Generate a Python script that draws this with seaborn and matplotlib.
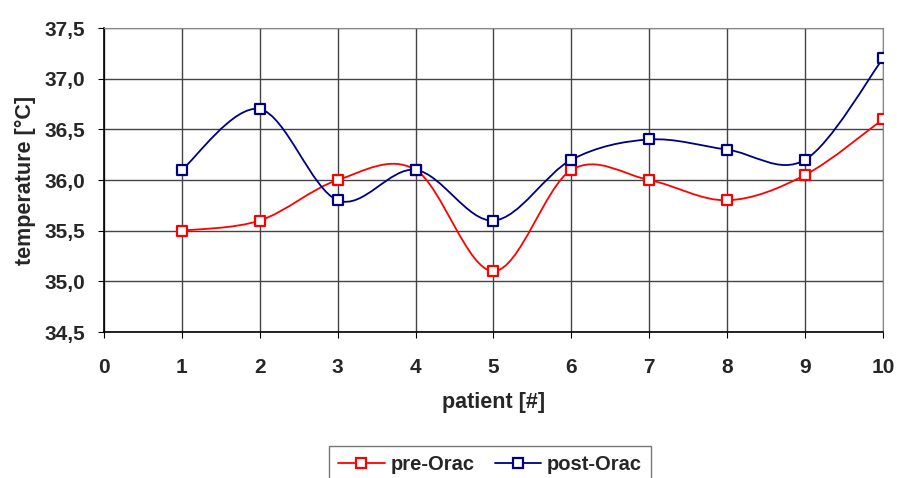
import numpy as np
import matplotlib
matplotlib.use("Agg")
import matplotlib.pyplot as plt
from matplotlib.path import Path
from matplotlib.patches import PathPatch
from matplotlib.lines import Line2D
from matplotlib.ticker import FuncFormatter
import seaborn as sns

# =====================================================
# DATA
# =====================================================
patients = [1, 2, 3, 4, 5, 6, 7, 8, 9, 10]
pre_orac = [35.5, 35.6, 36.0, 36.1, 35.1, 36.1, 36.0, 35.8, 36.05, 36.6]
post_orac = [36.1, 36.7, 35.8, 36.1, 35.6, 36.2, 36.4, 36.3, 36.2, 37.2]

RED = "#FF0000"
NAVY = "#000080"

sns.set_style("white")
plt.rcParams["font.family"] = ["Liberation Sans", "DejaVu Sans"]
plt.rcParams["font.weight"] = "bold"


def smooth_path(xs, ys):
    # Excel-style smoothed line: cubic Bezier through the points
    pts = np.column_stack([xs, ys]).astype(float)
    verts = [pts[0]]
    codes = [Path.MOVETO]
    n = len(pts)
    for i in range(n - 1):
        p0 = pts[i - 1] if i > 0 else pts[i]
        p1 = pts[i]
        p2 = pts[i + 1]
        p3 = pts[i + 2] if i + 2 < n else pts[i + 1]
        c1 = p1 + (p2 - p0) / 6.0
        c2 = p2 - (p3 - p1) / 6.0
        verts += [c1, c2, p2]
        codes += [Path.CURVE4] * 3
    return Path(verts, codes)


fig = plt.figure(figsize=(8.97, 4.78), dpi=100)
ax = fig.add_axes([0.1159, 0.3054, 0.8685, 0.636])

for ys, col in [(pre_orac, RED), (post_orac, NAVY)]:
    ax.add_patch(PathPatch(smooth_path(patients, ys), facecolor="none",
                           edgecolor=col, lw=1.3, zorder=3))
    sns.scatterplot(x=patients, y=ys, ax=ax, marker="s", s=55,
                    facecolor="white", edgecolor=col, linewidth=1.6,
                    zorder=4, legend=False)

ax.set_xlim(0, 10)
ax.set_ylim(34.5, 37.5)
ax.set_xticks(range(0, 11))
ax.set_yticks(np.arange(34.5, 37.51, 0.5))
ax.yaxis.set_major_formatter(FuncFormatter(lambda v, p: f"{v:.1f}".replace(".", ",")))

ax.grid(True, color="#444444", lw=1.0)
ax.set_axisbelow(True)
for s in ["top", "right"]:
    ax.spines[s].set_color("#888888")
for s in ["left", "bottom"]:
    ax.spines[s].set_color("black")
    ax.spines[s].set_linewidth(1.2)

ax.tick_params(axis="x", direction="out", length=4.5, pad=14, labelsize=15,
               bottom=True, color="black")
ax.tick_params(axis="y", direction="out", length=4.5, pad=9, labelsize=15,
               left=True, color="black")
for lab in ax.get_xticklabels() + ax.get_yticklabels():
    lab.set_fontweight("bold")

ax.set_xlabel("patient [#]", fontsize=15.5, fontweight="bold", labelpad=11)
ax.set_ylabel("temperature [°C]", fontsize=15.5, fontweight="bold", labelpad=6)

handles = [
    Line2D([], [], color=RED, lw=1.3, marker="s", markersize=7,
           markerfacecolor="white", markeredgecolor=RED, markeredgewidth=1.6),
    Line2D([], [], color=NAVY, lw=1.3, marker="s", markersize=7,
           markerfacecolor="white", markeredgecolor=NAVY, markeredgewidth=1.6),
]
fig.legend(handles, ["pre-Orac", "post-Orac"], ncol=2, loc="upper left",
           bbox_to_anchor=(0.367, 0.067), borderaxespad=0, frameon=True,
           fancybox=False, edgecolor="#555555",
           prop={"size": 14.5, "weight": "bold"},
           handlelength=2.3, handletextpad=0.3, columnspacing=1.0,
           borderpad=0.45)

fig.savefig("out.png", dpi=100)
